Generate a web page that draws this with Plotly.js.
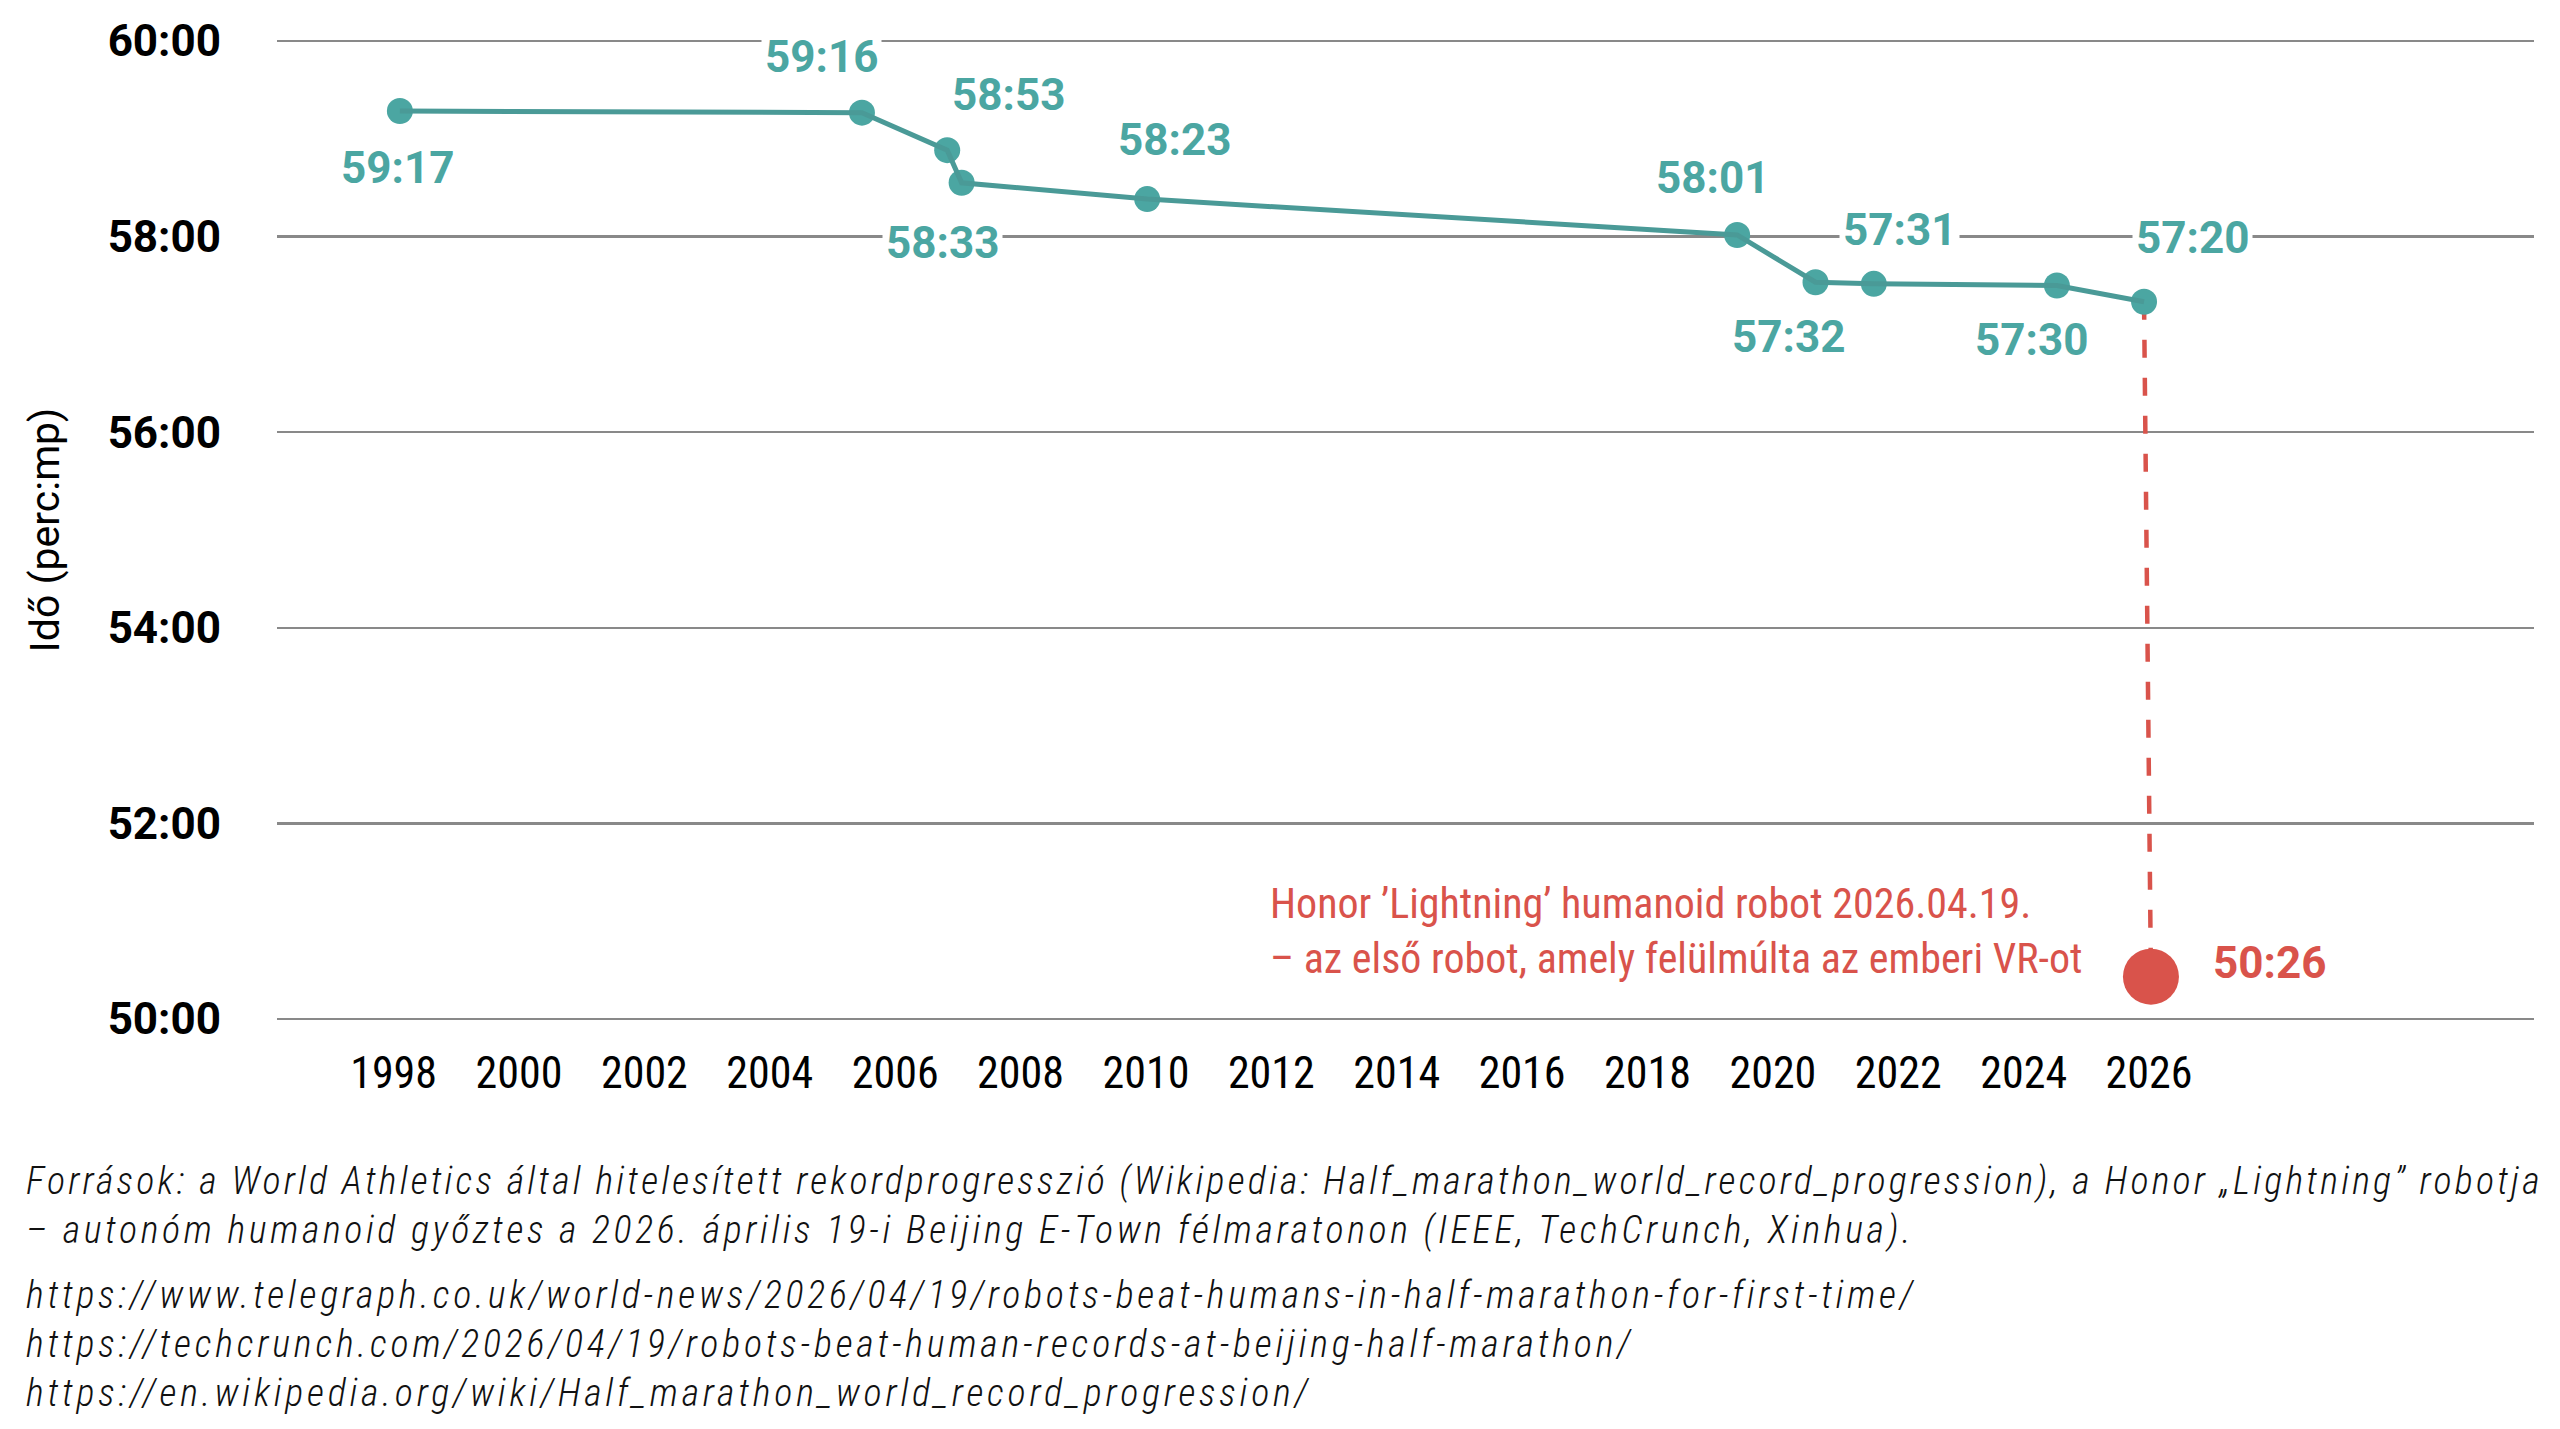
<!DOCTYPE html>
<html>
<head>
<meta charset="utf-8">
<script src="https://cdn.plot.ly/plotly-3.0.1.min.js"></script>
<style>
  html, body { margin: 0; padding: 0; background: #ffffff; }
  #chart { width: 2560px; height: 1429px; }
</style>
</head>
<body>
<div id="chart"></div>
<script>
// ---- data ----
const recordYears = [1998.10, 2005.47, 2006.83, 2007.06, 2010.02, 2019.43, 2020.68, 2021.61, 2024.53, 2025.92];
const recordTimes = ["59:17", "59:16", "58:53", "58:33", "58:23", "58:01", "57:32", "57:31", "57:30", "57:20"];
const robotYears = [2026.03];
const robotTimes = ["50:26"];
const xTickYears = [1998, 2000, 2002, 2004, 2006, 2008, 2010, 2012, 2014, 2016, 2018, 2020, 2022, 2024, 2026];
const yTickMinutes = [50, 52, 54, 56, 58, 60];
const robotNote = ["Honor \u2019Lightning\u2019 humanoid robot 2026.04.19.", "\u2013 az első robot, amely felülmúlta az emberi VR-ot"];
const sourceLines = [
  "Források: a World Athletics által hitelesített rekordprogresszió (Wikipedia: Half_marathon_world_record_progression), a Honor \u201ELightning\u201D robotja",
  "\u2013 autonóm humanoid győztes a 2026. április 19-i Beijing E-Town félmaratonon (IEEE, TechCrunch, Xinhua).",
  "https://www.telegraph.co.uk/world-news/2026/04/19/robots-beat-humans-in-half-marathon-for-first-time/",
  "https://techcrunch.com/2026/04/19/robots-beat-human-records-at-beijing-half-marathon/",
  "https://en.wikipedia.org/wiki/Half_marathon_world_record_progression/"
];

// ---- styles ----
const labelOffsets = [[-2,-57],[-40,56],[61,55],[-19,-60],[27,59],[-25,57],[-27,-55],[26,54],[-25,-55],[48,64]];
const sourceShifts = [-160, -209, -274, -323, -372];
const sourceSpacing = [3.18, 3.6, 3.75, 3.8, 3.8];
const TEAL = '#4ba6a2', TEAL_LINE = '#4a9a97', RED = '#d9534b';
const CONDENSED = '"Roboto Condensed", "Liberation Sans Narrow", "DejaVu Sans Condensed", Roboto, sans-serif';

function toMin(s) { const p = s.split(':'); return +p[0] + (+p[1]) / 60; }
function fmt(m) { const mm = Math.floor(m + 1e-9); const ss = Math.round((m - mm) * 60); return mm + ':' + String(ss).padStart(2, '0'); }

const recordY = recordTimes.map(toMin);
const robotY = robotTimes.map(toMin);
const last = recordYears.length - 1;

const traces = [
  { x: [recordYears[last], robotYears[0]], y: [recordY[last], robotY[0]], mode: 'lines',
    line: { color: RED, width: 4.5, dash: '18px,20px' }, hoverinfo: 'skip', showlegend: false, cliponaxis: false },
  { x: recordYears, y: recordY, mode: 'markers', marker: { color: TEAL, size: 26 },
    hoverinfo: 'skip', showlegend: false, cliponaxis: false },
  { x: recordYears, y: recordY, mode: 'lines', line: { color: TEAL_LINE, width: 5 },
    hoverinfo: 'skip', showlegend: false, cliponaxis: false },
  { x: robotYears, y: robotY, mode: 'markers', marker: { color: RED, size: 56 },
    hoverinfo: 'skip', showlegend: false, cliponaxis: false }
];

const annotations = [];
recordYears.forEach((yr, i) => {
  annotations.push({
    x: yr, y: recordY[i], xref: 'x', yref: 'y', text: recordTimes[i], showarrow: false,
    xanchor: 'center', yanchor: 'middle', xshift: labelOffsets[i][0], yshift: labelOffsets[i][1],
    font: { family: 'Roboto, sans-serif', size: 44, weight: 700, color: TEAL },
    bgcolor: '#ffffff', borderpad: 3
  });
});
annotations.push({
  x: robotYears[0], y: robotY[0], xref: 'x', yref: 'y', text: robotTimes[0], showarrow: false,
  xanchor: 'left', yanchor: 'middle', xshift: 60, yshift: 14,
  font: { family: 'Roboto, sans-serif', size: 44, weight: 700, color: RED }
});
annotations.push({
  x: robotYears[0], y: robotY[0], xref: 'x', yref: 'y', text: robotNote.join('<br>'), showarrow: false,
  xanchor: 'right', yanchor: 'middle', align: 'left', xshift: -67, yshift: 46,
  font: { family: CONDENSED, size: 42, color: RED }
});
sourceLines.forEach((t, i) => {
  annotations.push({
    x: 0, y: 0, xref: 'paper', yref: 'paper',
    text: '<span style="letter-spacing:' + sourceSpacing[i] + 'px">' + t + '</span>', showarrow: false,
    xanchor: 'left', yanchor: 'middle', align: 'left', xshift: -253, yshift: sourceShifts[i],
    font: { family: CONDENSED, size: 38, weight: 300, style: 'italic', color: '#111111' }
  });
});

const layout = {
  width: 2560, height: 1429,
  margin: { l: 277, r: 26, t: 39, b: 408 },
  paper_bgcolor: '#ffffff', plot_bgcolor: '#ffffff',
  showlegend: false,
  xaxis: {
    range: [1996.14, 2032.14], tickvals: xTickYears, ticktext: xTickYears.map(String),
    showgrid: false, zeroline: false, showline: false, ticks: '',
    ticklabelstandoff: 22,
    tickfont: { family: CONDENSED, size: 44, color: '#000000' }
  },
  yaxis: {
    range: [49.98, 60.02], tickvals: yTickMinutes, ticktext: yTickMinutes.map(fmt),
    showgrid: true, gridcolor: '#898989', gridwidth: 2.6, zeroline: false, showline: false, ticks: '',
    ticklabelstandoff: 55,
    tickfont: { family: 'Roboto, sans-serif', size: 44, weight: 700, color: '#000000' },
    title: { text: 'Idő (perc:mp)', font: { family: 'Roboto, sans-serif', size: 41, color: '#000000' }, standoff: 35 }
  },
  annotations: annotations
};

Plotly.newPlot('chart', traces, layout, { staticPlot: true, displayModeBar: false });
</script>
</body>
</html>
